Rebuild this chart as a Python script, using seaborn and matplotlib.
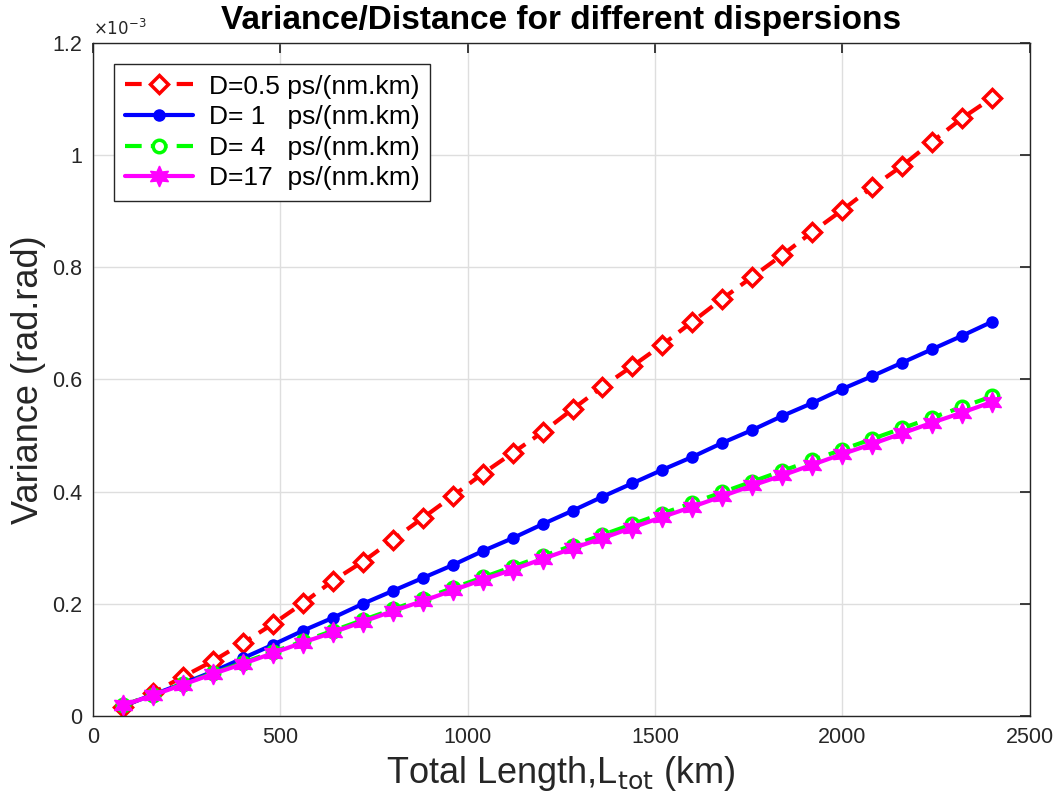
import numpy as np
import pandas as pd
import seaborn as sns
import matplotlib.pyplot as plt
from matplotlib.ticker import FuncFormatter, MultipleLocator

# total length (km), one point every 80 km
length_km = [80, 160, 240, 320, 400, 480, 560, 640, 720, 800,
             880, 960, 1040, 1120, 1200, 1280, 1360, 1440, 1520, 1600,
             1680, 1760, 1840, 1920, 2000, 2080, 2160, 2240, 2320, 2400]

# variance in units of 1e-3 rad.rad
var_d05 = [0.016, 0.041, 0.070, 0.098, 0.130, 0.164, 0.201, 0.241, 0.275, 0.314,
           0.353, 0.392, 0.432, 0.469, 0.506, 0.547, 0.587, 0.624, 0.662, 0.703,
           0.744, 0.783, 0.822, 0.863, 0.902, 0.943, 0.981, 1.024, 1.066, 1.102]
var_d1 = [0.018, 0.038, 0.058, 0.079, 0.103, 0.127, 0.152, 0.175, 0.200, 0.223,
          0.246, 0.269, 0.294, 0.317, 0.342, 0.366, 0.391, 0.415, 0.439, 0.462,
          0.487, 0.510, 0.535, 0.558, 0.583, 0.606, 0.630, 0.654, 0.678, 0.703]
var_d4 = [0.019, 0.038, 0.057, 0.076, 0.095, 0.114, 0.133, 0.152, 0.171, 0.190,
          0.209, 0.228, 0.247, 0.266, 0.285, 0.304, 0.323, 0.342, 0.361, 0.380,
          0.399, 0.418, 0.437, 0.456, 0.475, 0.494, 0.513, 0.532, 0.551, 0.570]
var_d17 = [0.019, 0.037, 0.056, 0.075, 0.093, 0.112, 0.131, 0.149, 0.168, 0.187,
           0.205, 0.224, 0.243, 0.261, 0.280, 0.299, 0.317, 0.336, 0.355, 0.373,
           0.392, 0.411, 0.429, 0.448, 0.467, 0.485, 0.504, 0.523, 0.541, 0.560]

labels = ["D=0.5 ps/(nm.km)", "D= 1   ps/(nm.km)", "D= 4   ps/(nm.km)", "D=17  ps/(nm.km)"]

sns.set_theme(style="whitegrid")
plt.rcParams['font.family'] = ['Liberation Sans', 'DejaVu Sans']
plt.rcParams.update({
    'axes.edgecolor': '#262626',
    'axes.linewidth': 1.0,
    'grid.color': '#dedede',
    'grid.linewidth': 1.0,
    'xtick.direction': 'in',
    'ytick.direction': 'in',
    'xtick.top': True,
    'ytick.right': True,
    'xtick.major.size': 7,
    'ytick.major.size': 7,
    'xtick.color': '#262626',
    'ytick.color': '#262626',
})

fig = plt.figure(figsize=(10.56, 8.1), dpi=100)
ax = fig.add_axes([0.088, 0.116, 0.887, 0.831])

styles = [
    dict(color='red', linestyle=(0, (4, 2.2)), marker='D', markersize=9,
         markerfacecolor='white', markeredgecolor='red', markeredgewidth=2.5),
    dict(color='blue', linestyle='-', marker='o', markersize=8,
         markerfacecolor='blue', markeredgecolor='blue', markeredgewidth=1),
    dict(color='#00ff00', linestyle=(0, (4, 2.2)), marker='o', markersize=9,
         markerfacecolor='white', markeredgecolor='#00ff00', markeredgewidth=2.5),
    dict(color='magenta', linestyle='-', marker=(6, 1, 0), markersize=15,
         markerfacecolor='magenta', markeredgecolor='magenta', markeredgewidth=1),
]

for vals, lab, st in zip([var_d05, var_d1, var_d4, var_d17], labels, styles):
    df = pd.DataFrame({'L': length_km, 'var': vals})
    sns.lineplot(data=df, x='L', y='var', ax=ax, label=lab, linewidth=3,
                 estimator=None, **st)

ax.set_xlim(0, 2500)
ax.set_ylim(0, 1.2)
ax.xaxis.set_major_locator(MultipleLocator(500))
ax.yaxis.set_major_locator(MultipleLocator(0.2))
ax.yaxis.set_major_formatter(FuncFormatter(lambda v, p: f"{v:g}"))
ax.tick_params(labelsize=15.5, pad=8)
for s in ax.spines.values():
    s.set_visible(True)
    s.set_color('#262626')

ax.text(0.0, 1.008, r"$\times10^{-3}$", transform=ax.transAxes, fontsize=12,
        color='#262626', ha='left', va='bottom')
ax.set_title("Variance/Distance for different dispersions", fontsize=24,
             fontweight='bold', pad=10, color='black')
ax.set_xlabel(r"Total Length,L$_{\mathrm{tot}}$ (km)", fontsize=26, color='#262626')
ax.set_ylabel("Variance (rad.rad)", fontsize=26, color='#262626')

leg = ax.legend(loc='upper left', fontsize=19, frameon=True, fancybox=False,
                edgecolor='#262626', framealpha=1, handlelength=2.6,
                borderaxespad=0.8, labelspacing=0.25, borderpad=0.4,
                handletextpad=0.6, labelcolor='black')
leg.get_frame().set_linewidth(1.0)

fig.savefig("out.png", dpi=100)
